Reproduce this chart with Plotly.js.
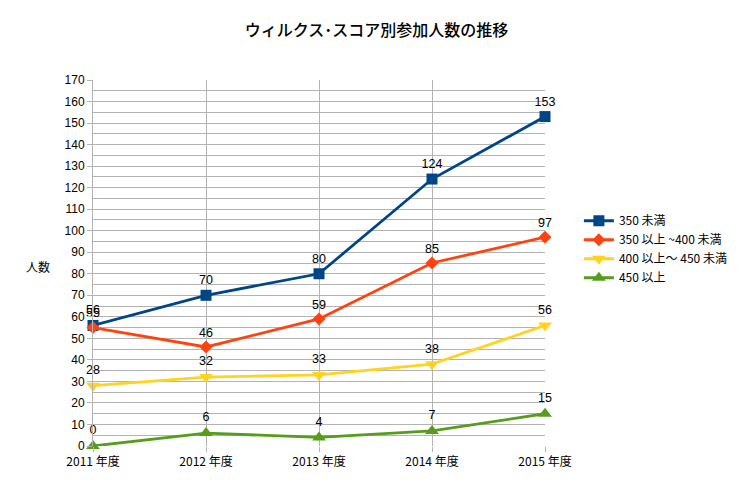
<!DOCTYPE html>
<html>
<head>
<meta charset="utf-8">
<script src="https://cdn.plot.ly/plotly-3.0.1.min.js"></script>
<style>
  html, body { margin: 0; padding: 0; background: #fff; }
  #chart { width: 753px; height: 497px; }
</style>
</head>
<body>
<div id="chart"></div>
<script>
// 年度ごとの参加人数
var years = ['2011 年度', '2012 年度', '2013 年度', '2014 年度', '2015 年度'];

var under350 = [56, 70, 80, 124, 153];
var from350to400 = [55, 46, 59, 85, 97];
var from400to450 = [28, 32, 33, 38, 56];
var over450 = [0, 6, 4, 7, 15];

var seriesNames = ['350 未満', '350 以上 ~400 未満', '400 以上～ 450 未満', '450 以上'];
var seriesColors = ['#004586', '#ff420e', '#ffd320', '#579d1c'];

var baseFont = 'Liberation Sans, Arial, Noto Sans CJK JP, sans-serif';
var jpFont = 'Noto Sans CJK JP, Liberation Sans, sans-serif';

function makeTrace(values, idx, symbol, size) {
    return {
        x: years,
        y: values,
        name: seriesNames[idx],
        type: 'scatter',
        mode: 'lines+markers+text',
        text: values.map(String),
        textposition: 'top center',
        textfont: { family: baseFont, size: 12.5, color: '#000' },
        line: { color: seriesColors[idx], width: 2.8 },
        marker: { color: seriesColors[idx], symbol: symbol, size: size },
        cliponaxis: false
    };
}

var plotlyData = [
    makeTrace(under350, 0, 'square', 11),
    makeTrace(from350to400, 1, 'diamond', 10),
    makeTrace(from400to450, 2, 'triangle-down', 12),
    makeTrace(over450, 3, 'triangle-up', 12)
];

var plotlyLayout = {
    width: 753,
    height: 497,
    margin: { l: 93, r: 208, t: 80, b: 51, autoexpand: false },
    paper_bgcolor: '#fff',
    plot_bgcolor: '#fff',
    font: { family: baseFont, size: 12, color: '#000' },
    title: {
        text: 'ウィルクス･スコア別参加人数の推移',
        font: { family: jpFont, size: 16, color: '#000', weight: 500 },
        x: 0.5,
        xanchor: 'center',
        y: 0.938,
        yanchor: 'middle'
    },
    showlegend: true,
    legend: {
        x: 1.075,
        xanchor: 'left',
        y: 0.655,
        yanchor: 'top',
        font: { family: jpFont, size: 12, color: '#000' },
        tracegroupgap: 0,
        itemwidth: 30
    },
    xaxis: {
        type: 'category',
        range: [0, 4],
        showgrid: true,
        gridcolor: '#b3b3b3',
        gridwidth: 1,
        zeroline: false,
        showline: false,
        ticks: 'outside',
        ticklen: 5,
        tickcolor: '#b3b3b3',
        tickfont: { family: jpFont, size: 12, color: '#000' },
        fixedrange: true
    },
    yaxis: {
        range: [0, 170],
        dtick: 10,
        tick0: 0,
        showgrid: true,
        gridcolor: '#b3b3b3',
        gridwidth: 1,
        minor: { dtick: 5, showgrid: true, gridcolor: '#b3b3b3', gridwidth: 1 },
        zeroline: false,
        showline: true,
        linecolor: '#b3b3b3',
        ticks: 'outside',
        ticklen: 5,
        tickcolor: '#b3b3b3',
        tickfont: { family: baseFont, size: 12, color: '#000' },
        fixedrange: true
    },
    annotations: [
        {
            text: '人数',
            xref: 'paper',
            yref: 'paper',
            x: -0.122,
            y: 0.49,
            xanchor: 'center',
            yanchor: 'middle',
            showarrow: false,
            font: { family: jpFont, size: 12, color: '#000' }
        }
    ]
};

var plotlyConfig = {
    displayModeBar: false,
    staticPlot: true
};

Plotly.newPlot('chart', plotlyData, plotlyLayout, plotlyConfig);
</script>
</body>
</html>
